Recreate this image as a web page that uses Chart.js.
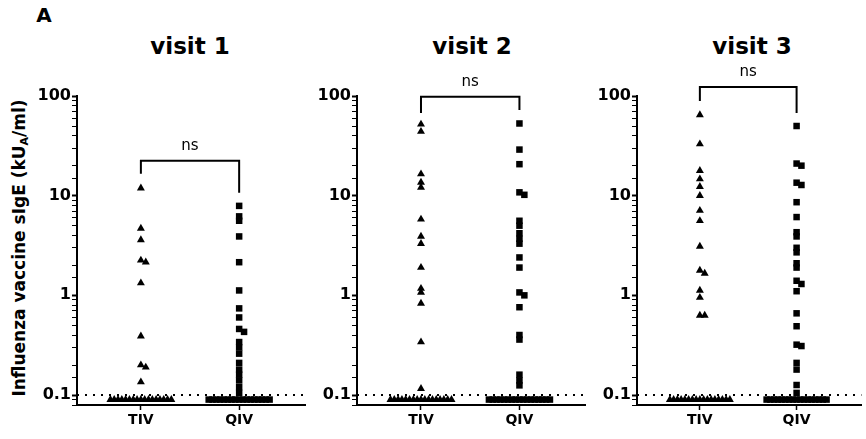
<!DOCTYPE html>
<html>
<head>
<meta charset="utf-8">
<script src="https://cdn.jsdelivr.net/npm/chart.js@4.4.1/dist/chart.umd.min.js"></script>
<style>
  body { margin: 0; background: #fff; }
  #wrap { position: relative; width: 866px; height: 439px; overflow: hidden; font-family: "DejaVu Sans", Verdana, sans-serif; color: #000; }
  canvas { position: absolute; top: 0; }
  .lbl { position: absolute; font-weight: bold; white-space: nowrap; transform: translate(-50%, -50%); }
  #ytitle { position: absolute; left: 20px; top: 248px; font-weight: bold; font-size: 17px; white-space: nowrap; transform: translate(-50%, -50%) rotate(-90deg); }
  #ytitle sub { font-size: 11px; vertical-align: -3px; }
</style>
</head>
<body>
<div id="wrap">
  <div class="lbl" style="left:44px;top:15px;font-size:20px">A</div>
  <div class="lbl" id="t0" style="top:46px;font-size:23px"></div>
  <div class="lbl" id="t1" style="top:46px;font-size:23px"></div>
  <div class="lbl" id="t2" style="top:46px;font-size:23px"></div>
  <div id="ytitle">Influenza vaccine sIgE (kU<sub>A</sub>/ml)</div>
  <canvas id="c0" width="310" height="439" style="left:0px"></canvas>
  <canvas id="c1" width="280" height="439" style="left:310px"></canvas>
  <canvas id="c2" width="276" height="439" style="left:590px"></canvas>
</div>
<script>
// chart values
const categories = ['TIV', 'QIV'];
const visitTitles = ['visit 1', 'visit 2', 'visit 3'];
const yTicks = [0.1, 1, 10, 100];
const detectionLimit = 0.1;
const baselineValue = 0.09; // values below the detection limit

const tivV1 = [11.9, 4.7, 3.6, 2.25, 2.15, 1.33, 0.39, 0.2, 0.19, 0.135];
const qivV1 = [7.9, 6.2, 5.6, 3.9, 2.15, 1.12, 0.74, 0.6, 0.46, 0.43, 0.34, 0.3, 0.26, 0.21, 0.18, 0.16, 0.14, 0.12, 0.105];
const tivV2 = [52, 44, 16.5, 13.6, 12.1, 5.8, 3.9, 3.3, 1.9, 1.17, 1.07, 0.83, 0.34, 0.116];
const qivV2 = [53, 29, 20.7, 10.8, 10.2, 5.6, 5.0, 4.2, 3.7, 3.3, 2.4, 1.9, 1.07, 1.0, 0.76, 0.4, 0.36, 0.16, 0.14, 0.125];
const tivV3 = [64.6, 33, 17.8, 14.7, 12.3, 10, 7.1, 5.6, 3.1, 1.78, 1.66, 1.12, 0.95, 0.63, 0.63];
const qivV3 = [50, 21, 20, 13.5, 12.8, 8.6, 6.1, 4.3, 3.9, 3.0, 2.7, 2.1, 1.9, 1.4, 1.3, 1.1, 0.66, 0.49, 0.32, 0.31, 0.21, 0.18, 0.126, 0.105];
const tivBelow = [17, 17, 17];
const qivBelow = [17, 17, 17];

// bracket: [left end, top, right end]
const brackets = [[16.6, 22.4, 10.7], [67.6, 98, 72.4], [89, 123, 67.6]];
const bracketText = ['ns', 'ns', 'ns'];

const tivData = [tivV1, tivV2, tivV3];
const qivData = [qivV1, qivV2, qivV3];

const xMin = -0.65, xMax = 1.67;
const yMin = 0.0794, yMax = 100;
const titleX = [190, 472, 752];
const axisWidth = [77, 47, 47];
const rightPad = [5, 2, 0];
const fontFamily = '"DejaVu Sans", Verdana, sans-serif';

function spread(values, center, below) {
    var pts = [];
    var placed = [];
    values.forEach(v => {
        let ly = Math.log10(v);
        let k = 0, off = 0;
        while (placed.some(p => Math.abs(p.ly - ly) < 0.035 && Math.abs(p.off - off) < 0.045)) {
            k++;
            off = (k % 2 ? 1 : -1) * Math.ceil(k / 2) * 0.05;
        }
        placed.push({ly: ly, off: off});
        pts.push({x: center + off, y: v});
    });
    for (let i = 0; i < below; i++) {
        let off = below > 1 ? -0.31 + 0.62 * i / (below - 1) : 0;
        pts.push({x: center + off, y: baselineValue});
    }
    return pts;
}

const nsPlugin = {
    id: 'nsLabel',
    afterDatasetsDraw(chart) {
        const idx = chart.options.plugins.nsLabel.idx;
        const ctx = chart.ctx;
        const xs = chart.scales.x, ys = chart.scales.y;
        const cx = (xs.getPixelForValue(0) + xs.getPixelForValue(1)) / 2;
        const py = ys.getPixelForValue(brackets[idx][1]);
        ctx.save();
        ctx.fillStyle = '#000';
        ctx.font = '15px ' + fontFamily;
        ctx.textAlign = 'center';
        ctx.textBaseline = 'middle';
        ctx.fillText(bracketText[idx], cx, py - 15);
        ctx.restore();
    }
};

function isMajor(v) {
    return yTicks.some(t => Math.abs(v - t) / t < 1e-6);
}

function drawPanel(idx) {
    document.getElementById('t' + idx).textContent = visitTitles[idx];
    document.getElementById('t' + idx).style.left = titleX[idx] + 'px';
    const b = brackets[idx];
    let ctx = document.getElementById('c' + idx).getContext('2d');
    new Chart(ctx, {
        type: 'scatter',
        data: {
            datasets: [{
                label: categories[0],
                data: spread(tivData[idx], 0, tivBelow[idx]),
                pointStyle: 'triangle',
                pointRadius: 4.6,
                backgroundColor: '#000',
                borderColor: '#000',
                borderWidth: 0,
                clip: false
            }, {
                label: categories[1],
                data: spread(qivData[idx], 1, qivBelow[idx]),
                pointStyle: 'rect',
                pointRadius: 4.6,
                backgroundColor: '#000',
                borderColor: '#000',
                borderWidth: 0,
                clip: false
            }, {
                label: 'limit',
                type: 'line',
                data: [{x: xMin, y: detectionLimit}, {x: xMax, y: detectionLimit}],
                borderColor: '#000',
                borderWidth: 2,
                borderDash: [2, 6],
                pointRadius: 0,
                clip: false
            }, {
                label: 'bracket',
                type: 'line',
                data: [{x: 0, y: b[0]}, {x: 0, y: b[1]}, {x: 1, y: b[1]}, {x: 1, y: b[2]}],
                borderColor: '#000',
                borderWidth: 2,
                pointRadius: 0,
                tension: 0,
                clip: false
            }]
        },
        options: {
            responsive: false,
            animation: false,
            devicePixelRatio: 1,
            layout: { padding: { top: 96, left: 0, right: rightPad[idx], bottom: 0 } },
            plugins: {
                legend: { display: false },
                tooltip: { enabled: false },
                nsLabel: { idx: idx }
            },
            scales: {
                x: {
                    type: 'linear',
                    min: xMin,
                    max: xMax,
                    afterBuildTicks: function(scale) {
                        scale.ticks = categories.map((c, i) => ({value: i}));
                    },
                    afterFit: function(scale) { scale.height = 34; },
                    ticks: {
                        callback: function(v) { return categories[v]; },
                        color: '#000',
                        padding: 2,
                        font: { family: fontFamily, size: 14, weight: 'bold' }
                    },
                    grid: { drawOnChartArea: false, drawTicks: true, tickLength: 5, tickWidth: 1.5, tickColor: '#000' },
                    border: { color: '#000', width: 2 }
                },
                y: {
                    type: 'logarithmic',
                    min: yMin,
                    max: yMax,
                    afterFit: function(scale) { scale.width = axisWidth[idx]; },
                    ticks: {
                        autoSkip: false,
                        color: '#000',
                        padding: 1,
                        callback: function(v) {
                            return isMajor(v) ? String(v) : '';
                        },
                        font: { family: fontFamily, size: 16, weight: 'bold' }
                    },
                    grid: {
                        drawOnChartArea: false,
                        drawTicks: true,
                        tickLength: 5,
                        tickColor: '#000',
                        tickWidth: function(c) { return c.tick && isMajor(c.tick.value) ? 2 : 1; }
                    },
                    border: { color: '#000', width: 2 }
                }
            }
        },
        plugins: [nsPlugin]
    });
}

[0, 1, 2].forEach(function(i) { drawPanel(i); });
</script>
</body>
</html>
